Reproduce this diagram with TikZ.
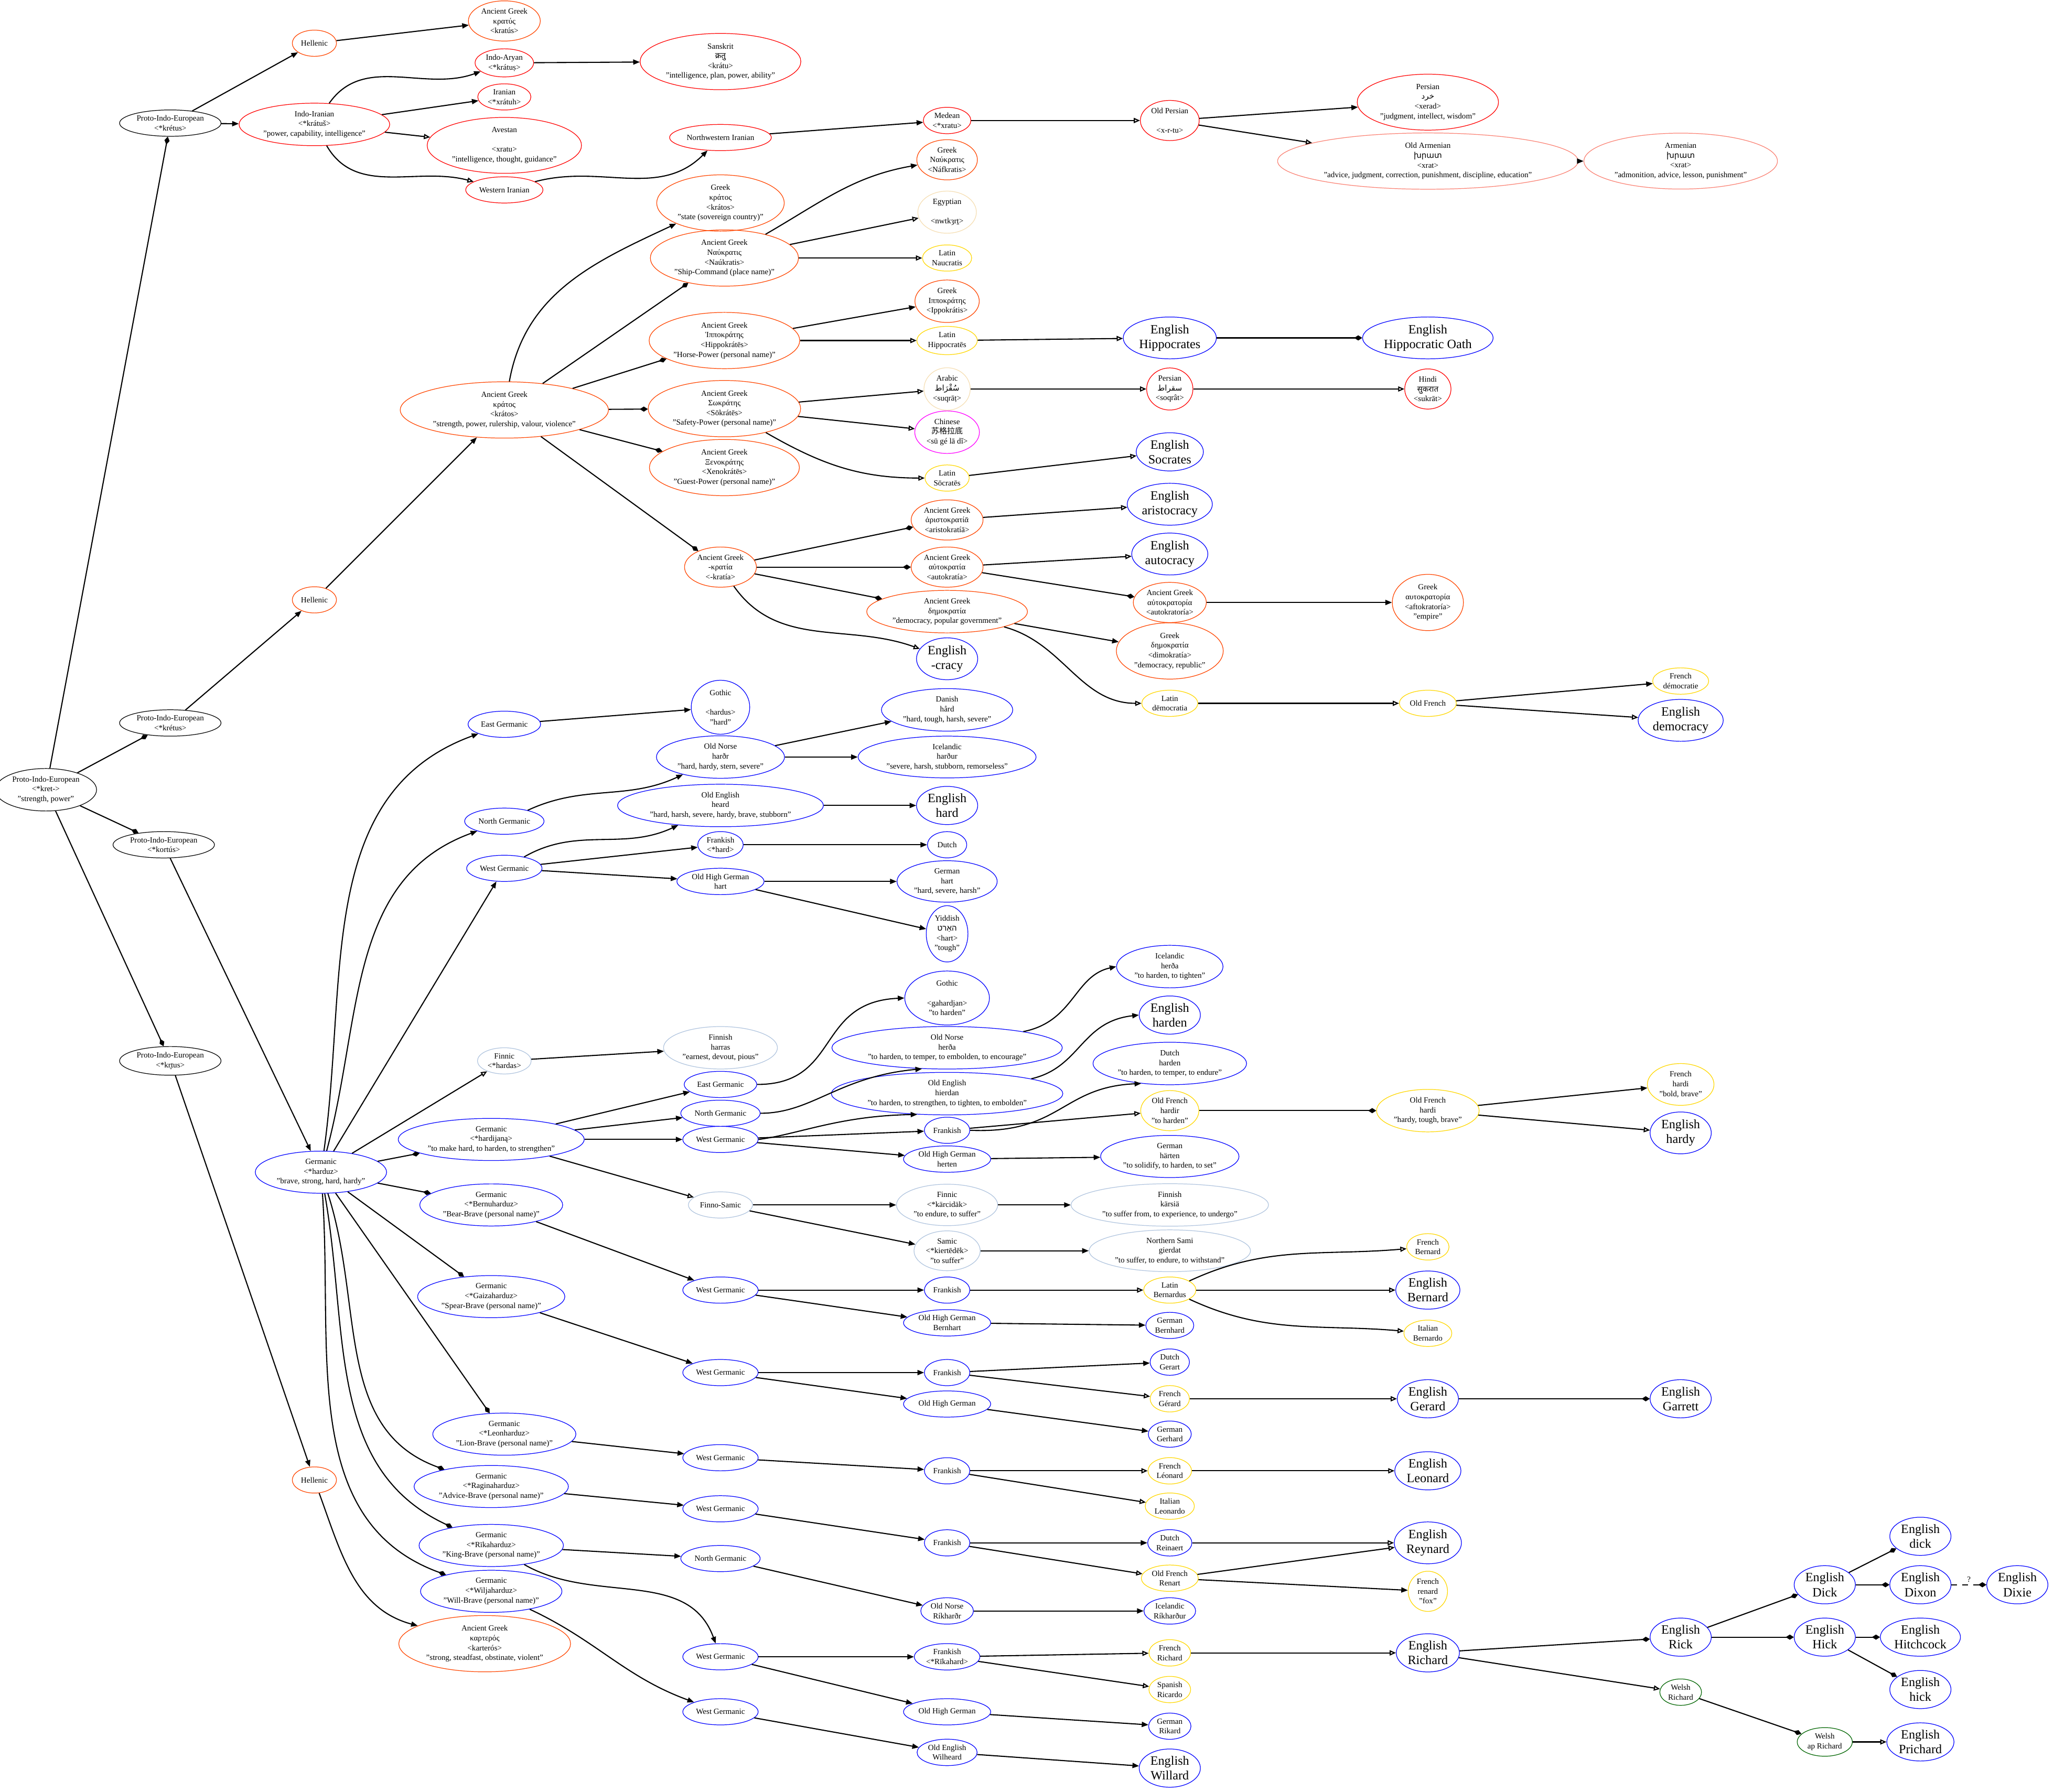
\documentclass[tikz,border=0pt]{standalone}
\usepackage{fontspec}
\usetikzlibrary{shapes.geometric,arrows.meta}
\setmainfont{Liberation Serif}
\newfontfamily\deva[Script=Devanagari]{Noto Sans}
\newfontfamily\arab[Script=Arabic]{DejaVu Sans}
\newfontfamily\armn{DejaVu Sans}
\newfontfamily\hebr[Script=Hebrew]{Liberation Sans}
\newfontfamily\cjk{Noto Sans CJK SC}
\newfontfamily\grk[Scale=0.88]{DejaVu Serif}
\TeXXeTstate=1
\newcommand\fsm{\fontsize{4.3}{5.3}\selectfont}
\newcommand\fbg{\fontsize{6.9}{8}\selectfont}
\definecolor{cgk}{HTML}{FF4500}
\definecolor{cir}{HTML}{FF0000}
\definecolor{carm}{HTML}{FA8072}
\definecolor{cegy}{HTML}{F5DEB3}
\definecolor{clat}{HTML}{FFD700}
\definecolor{cchi}{HTML}{FF00FF}
\definecolor{cger}{HTML}{0000FF}
\definecolor{cfin}{HTML}{B0C4DE}
\definecolor{cwel}{HTML}{006400}
\tikzset{
  nd/.style={ellipse, draw, line width=0.35pt, inner xsep=1.2pt, inner ysep=0.9pt,
    align=center, font=\fsm, minimum width=0.75cm, minimum height=0.5cm},
  en/.style={nd, draw=cger, font=\fbg},
  gk/.style={nd, draw=cgk}, ir/.style={nd, draw=cir}, arm/.style={nd, draw=carm},
  egy/.style={nd, draw=cegy}, lat/.style={nd, draw=clat}, chi/.style={nd, draw=cchi},
  ger/.style={nd, draw=cger}, fin/.style={nd, draw=cfin}, wel/.style={nd, draw=cwel},
  inh/.style={-{Triangle[length=3.6pt,width=2.8pt]}, line width=0.6pt},
  bor/.style={-{Triangle[open,length=3.4pt,width=2.8pt]}, line width=0.6pt},
  der/.style={-{Diamond[length=4.4pt,width=2.8pt]}, line width=0.6pt},
}
\begin{document}
\begin{tikzpicture}[x=0.025cm, y=-0.025cm]
\useasboundingbox (0,0) rectangle (1568,1368);
% ---------- PIE ----------
\node[nd] (pie) at (35,603) {Proto-Indo-European\\<*kret->\\"strength, power"};
\node[nd] (pieA) at (130,94) {Proto-Indo-European\\<*krétus>};
\node[nd] (pieB) at (130,552) {Proto-Indo-European\\<*krétus>};
\node[nd] (pieC) at (125,645) {Proto-Indo-European\\<*kortús>};
\node[nd] (pieD) at (130,810) {Proto-Indo-European\\<*kr̥tus>};
% ---------- Indo-Iranian ----------
\node[gk] (hel1) at (240,33) {Hellenic};
\node[gk] (AGkratus) at (385,16) {Ancient Greek\\κρατύς\\<kratús>};
\node[ir] (IIr) at (240,95) {Indo-Iranian\\<*krátuš>\\"power, capability, intelligence"};
\node[ir] (IAr) at (385,48) {Indo-Aryan\\<*krátuṣ>};
\node[ir] (San) at (550,47) {Sanskrit\\{\deva क्रतु}\\<krátu>\\"intelligence, plan, power, ability"};
\node[ir] (Ira) at (385,74) {Iranian\\<*xrátuh>};
\node[ir] (Ave) at (385,111) {Avestan\\𐬑𐬭𐬀𐬙𐬎\\<xratu>\\"intelligence, thought, guidance"};
\node[ir] (WIr) at (385,145) {Western Iranian};
\node[ir] (NWIr) at (550,105) {Northwestern Iranian};
\node[ir] (Med) at (723,92) {Medean\\<*xratu>};
\node[ir] (OPer) at (893,92) {Old Persian\\𐎧𐎼𐎫𐎢\\<x-r-tu>};
\node[ir] (Per) at (1090,78) {Persian\\{\arab\beginR خرد\endR}\\<xerad>\\"judgment, intellect, wisdom"};
\node[arm] (OArm) at (1090,123) {Old Armenian\\{\armn խրատ}\\<xrat>\\"advice, judgment, correction, punishment, discipline, education"};
\node[arm] (Arm) at (1283,123) {Armenian\\{\armn խրատ}\\<xrat>\\"admonition, advice, lesson, punishment"};
% ---------- Greek ----------
\node[gk] (hel2) at (240,458) {Hellenic};
\node[gk] (AGkratos) at (385,313) {Ancient Greek\\κράτος\\<krátos>\\"strength, power, rulership, valour, violence"};
\node[gk] (Gkratos) at (550,155) {Greek\\κράτος\\<krátos>\\"state (sovereign country)"};
\node[gk] (AGnauk) at (553,197) {Ancient Greek\\Ναύκρατις\\<Naúkratis>\\"Ship-Command (place name)"};
\node[gk] (Gnauk) at (723,122) {Greek\\Ναύκρατις\\<Náfkratis>};
\node[egy] (Egy) at (723,162) {Egyptian\\𓈖𓅱𓎡𓂋𓍿𓊖\\<nwtkȝrṯ>};
\node[lat] (LNauk) at (723,197) {Latin\\Naucratis};
\node[gk] (AGhip) at (553,260) {Ancient Greek\\Ἱπποκράτης\\<Hippokrátēs>\\"Horse-Power (personal name)"};
\node[gk] (Ghip) at (723,230) {Greek\\Ιπποκράτης\\<Ippokrátis>};
\node[lat] (LHip) at (723,260) {Latin\\Hippocratēs};
\node[en] (EHip) at (893,258) {English\\Hippocrates};
\node[en] (EOath) at (1090,258) {English\\Hippocratic Oath};
\node[gk] (AGsok) at (553,312) {Ancient Greek\\Σωκράτης\\<Sōkrátēs>\\"Safety-Power (personal name)"};
\node[egy] (Arab) at (723,297) {Arabic\\{\arab\beginR سُقْرَاط\endR}\\<suqrāṭ>};
\node[ir] (PerS) at (893,297) {Persian\\{\arab\beginR سقراط\endR}\\<soqrât>};
\node[ir] (Hin) at (1090,297) {Hindi\\{\deva सुकरात}\\<sukrāt>};
\node[chi] (Chi) at (723,330) {Chinese\\{\cjk 苏格拉底}\\<sū gé lā dǐ>};
\node[lat] (LSok) at (723,365) {Latin\\Sōcratēs};
\node[en] (ESoc) at (893,345) {English\\Socrates};
\node[gk] (AGxen) at (553,357) {Ancient Greek\\Ξενοκράτης\\<Xenokrátēs>\\"Guest-Power (personal name)"};
\node[gk] (AGkratia) at (550,433) {Ancient Greek\\-κρατία\\<-kratía>};
\node[gk] (AGarist) at (723,397) {Ancient Greek\\ἀριστοκρατίᾱ\\<aristokratíā>};
\node[en] (EArist) at (893,385) {English\\aristocracy};
\node[gk] (AGauto) at (723,433) {Ancient Greek\\αὐτοκρατία\\<autokratía>};
\node[en] (EAuto) at (893,423) {English\\autocracy};
\node[gk] (AGautor) at (893,460) {Ancient Greek\\αὐτοκρατορία\\<autokratoría>};
\node[gk] (Gautor) at (1090,460) {Greek\\αυτοκρατορία\\<aftokratoría>\\"empire"};
\node[gk] (AGdemo) at (723,467) {Ancient Greek\\δημοκρατία\\"democracy, popular government"};
\node[gk] (Gdemo) at (893,497) {Greek\\δημοκρατία\\<dimokratía>\\"democracy, republic"};
\node[en] (ECracy) at (723,503) {English\\-cracy};
\node[lat] (LDemo) at (893,537) {Latin\\dēmocratia};
\node[lat] (OFr) at (1090,537) {Old French};
\node[lat] (FrDemo) at (1283,520) {French\\démocratie};
\node[en] (EDemo) at (1283,550) {English\\democracy};
% ---------- Germanic ----------
\node[ger] (Gmc) at (245,895) {Germanic\\<*harduz>\\"brave, strong, hard, hardy"};
\node[ger] (EG1) at (385,553) {East Germanic};
\node[ger] (Goth1) at (550,540) {Gothic\\𐌷𐌰𐍂𐌳𐌿𐍃\\<hardus>\\"hard"};
\node[ger] (NG1) at (385,627) {North Germanic};
\node[ger] (ON1) at (550,578) {Old Norse\\harðr\\"hard, hardy, stern, severe"};
\node[ger] (Dan) at (723,542) {Danish\\hård\\"hard, tough, harsh, severe"};
\node[ger] (Ice1) at (723,578) {Icelandic\\harður\\"severe, harsh, stubborn, remorseless"};
\node[ger] (WG1) at (385,663) {West Germanic};
\node[ger] (OE1) at (550,615) {Old English\\heard\\"hard, harsh, severe, hardy, brave, stubborn"};
\node[en] (EHard) at (723,615) {English\\hard};
\node[ger] (Frk1) at (550,645) {Frankish\\<*hard>};
\node[ger] (Du1) at (723,645) {Dutch};
\node[ger] (OHG1) at (550,673) {Old High German\\hart};
\node[ger] (Ger1) at (723,673) {German\\hart\\"hard, severe, harsh"};
\node[ger] (Yid) at (723,713) {Yiddish\\{\hebr\beginR האַרט\endR}\\<hart>\\"tough"};
\node[fin] (Finnic1) at (385,810) {Finnic\\<*hardas>};
\node[fin] (FinHar) at (550,800) {Finnish\\harras\\"earnest, devout, pious"};
\node[ger] (GmcHard) at (375,870) {Germanic\\<*hardijaną>\\"to make hard, to harden, to strengthen"};
\node[ger] (EG2) at (550,828) {East Germanic};
\node[ger] (NG2) at (550,850) {North Germanic};
\node[ger] (WG2) at (550,870) {West Germanic};
\node[fin] (FinSam) at (550,920) {Finno-Samic};
\node[ger] (Goth2) at (723,762) {Gothic\\𐌲𐌰𐌷𐌰𐍂𐌳𐌾𐌰𐌽\\<gahardjan>\\"to harden"};
\node[ger] (ON2) at (723,800) {Old Norse\\herða\\"to harden, to temper, to embolden, to encourage"};
\node[ger] (OE2) at (723,835) {Old English\\hierdan\\"to harden, to strengthen, to tighten, to embolden"};
\node[ger] (Frk2) at (723,863) {Frankish};
\node[ger] (OHG2) at (723,885) {Old High German\\herten};
\node[ger] (Ice2) at (893,738) {Icelandic\\herða\\"to harden, to tighten"};
\node[en] (EHarden) at (893,775) {English\\harden};
\node[ger] (Du2) at (893,812) {Dutch\\harden\\"to harden, to temper, to endure"};
\node[lat] (OFhardir) at (893,848) {Old French\\hardir\\"to harden"};
\node[lat] (OFhardi) at (1090,848) {Old French\\hardi\\"hardy, tough, brave"};
\node[lat] (FrHardi) at (1283,828) {French\\hardi\\"bold, brave"};
\node[en] (EHardy) at (1283,865) {English\\hardy};
\node[ger] (Ger2) at (893,883) {German\\härten\\"to solidify, to harden, to set"};
\node[fin] (Finnic2) at (723,920) {Finnic\\<*kärcidäk>\\"to endure, to suffer"};
\node[fin] (FinKar) at (893,920) {Finnish\\kärsiä\\"to suffer from, to experience, to undergo"};
\node[fin] (Samic) at (723,955) {Samic\\<*kiertēdēk>\\"to suffer"};
\node[fin] (NSami) at (893,955) {Northern Sami\\gierdat\\"to suffer, to endure, to withstand"};
% names
\node[ger] (GmcBern) at (375,920) {Germanic\\<*Bernuharduz>\\"Bear-Brave (personal name)"};
\node[ger] (WG3) at (550,985) {West Germanic};
\node[ger] (Frk3) at (723,985) {Frankish};
\node[ger] (OHG3) at (723,1010) {Old High German\\Bernhart};
\node[lat] (LBern) at (893,985) {Latin\\Bernardus};
\node[ger] (GerBern) at (893,1012) {German\\Bernhard};
\node[lat] (FrBern) at (1090,952) {French\\Bernard};
\node[en] (EBern) at (1090,985) {English\\Bernard};
\node[lat] (ItBern) at (1090,1018) {Italian\\Bernardo};
\node[ger] (GmcGaiz) at (375,990) {Germanic\\<*Gaizaharduz>\\"Spear-Brave (personal name)"};
\node[ger] (WG4) at (550,1048) {West Germanic};
\node[ger] (Frk4) at (723,1048) {Frankish};
\node[ger] (OHG4) at (723,1072) {Old High German};
\node[ger] (DuGer) at (893,1040) {Dutch\\Gerart};
\node[lat] (FrGer) at (893,1068) {French\\Gérard};
\node[ger] (GerGer) at (893,1095) {German\\Gerhard};
\node[en] (EGer) at (1090,1068) {English\\Gerard};
\node[en] (EGar) at (1283,1068) {English\\Garrett};
\node[ger] (GmcLeon) at (385,1095) {Germanic\\<*Leonharduz>\\"Lion-Brave (personal name)"};
\node[ger] (WG5) at (550,1113) {West Germanic};
\node[ger] (Frk5) at (723,1123) {Frankish};
\node[lat] (FrLeon) at (893,1123) {French\\Léonard};
\node[lat] (ItLeon) at (893,1150) {Italian\\Leonardo};
\node[en] (ELeon) at (1090,1123) {English\\Leonard};
\node[ger] (GmcRag) at (375,1135) {Germanic\\<*Raginaharduz>\\"Advice-Brave (personal name)"};
\node[ger] (WG6) at (550,1152) {West Germanic};
\node[ger] (Frk6) at (723,1178) {Frankish};
\node[ger] (DuRein) at (893,1178) {Dutch\\Reinaert};
\node[lat] (OFRen) at (893,1205) {Old French\\Renart};
\node[en] (EReyn) at (1090,1178) {English\\Reynard};
\node[lat] (FrRen) at (1090,1215) {French\\renard\\"fox"};
\node[ger] (GmcRik) at (375,1180) {Germanic\\<*Rīkaharduz>\\"King-Brave (personal name)"};
\node[ger] (NG7) at (550,1190) {North Germanic};
\node[ger] (ONRik) at (723,1230) {Old Norse\\Ríkharðr};
\node[ger] (IceRik) at (893,1230) {Icelandic\\Ríkharður};
\node[ger] (WG7) at (550,1265) {West Germanic};
\node[ger] (Frk7) at (723,1265) {Frankish\\<*Rīkahard>};
\node[lat] (FrRich) at (893,1262) {French\\Richard};
\node[lat] (SpRic) at (893,1290) {Spanish\\Ricardo};
\node[ger] (OHG7) at (723,1307) {Old High German};
\node[ger] (GerRik) at (893,1318) {German\\Rikard};
\node[en] (ERich) at (1090,1262) {English\\Richard};
\node[en] (ERick) at (1283,1250) {English\\Rick};
\node[wel] (WRich) at (1283,1292) {Welsh\\Richard};
\node[en] (EDick) at (1393,1210) {English\\Dick};
\node[en] (EHick) at (1393,1250) {English\\Hick};
\node[wel] (WAp) at (1393,1330) {Welsh\\ap Richard};
\node[en] (Edick) at (1466,1173) {English\\dick};
\node[en] (EDixon) at (1466,1210) {English\\Dixon};
\node[en] (EDixie) at (1540,1210) {English\\Dixie};
\node[en] (EHitch) at (1466,1250) {English\\Hitchcock};
\node[en] (Ehick) at (1466,1290) {English\\hick};
\node[en] (EPrich) at (1466,1330) {English\\Prichard};
\node[ger] (GmcWil) at (375,1215) {Germanic\\<*Wiljaharduz>\\"Will-Brave (personal name)"};
\node[ger] (WG8) at (550,1307) {West Germanic};
\node[ger] (OEWil) at (723,1338) {Old English\\Wilheard};
\node[en] (EWil) at (893,1350) {English\\Willard};
\node[gk] (hel3) at (240,1130) {Hellenic};
\node[gk] (AGkart) at (370,1255) {Ancient Greek\\καρτερός\\<karterós>\\"strong, steadfast, obstinate, violent"};
% ---------- edges ----------
\draw[der] (pie) -- (pieA);
\draw[der] (pie) -- (pieB);
\draw[der] (pie) -- (pieC);
\draw[der] (pie) -- (pieD);
\draw[inh] (pieA) -- (hel1);
\draw[inh] (hel1) -- (AGkratus);
\draw[inh] (pieA) -- (IIr);
\draw[inh] (IIr) to[out=55,in=200] (IAr);
\draw[inh] (IIr) -- (Ira);
\draw[bor] (IIr) -- (Ave);
\draw[bor] (IIr) to[out=-60,in=165] (WIr);
\draw[inh] (IAr) -- (San);
\draw[inh] (WIr) to[out=15,in=225] (NWIr);
\draw[inh] (NWIr) -- (Med);
\draw[bor] (Med) -- (OPer);
\draw[inh] (OPer) -- (Per);
\draw[bor] (OPer) -- (OArm);
\draw[inh] (OArm) -- (Arm);
\draw[inh] (pieB) -- (hel2);
\draw[inh] (hel2) -- (AGkratos);
\draw[inh] (AGkratos) to[out=80,in=205] (Gkratos);
\draw[der] (AGkratos) -- (AGnauk);
\draw[der] (AGkratos) -- (AGhip);
\draw[der] (AGkratos) -- (AGsok);
\draw[der] (AGkratos) -- (AGxen);
\draw[der] (AGkratos) -- (AGkratia);
\draw[inh] (AGnauk) to[out=30,in=190] (Gnauk);
\draw[bor] (AGnauk) -- (Egy);
\draw[bor] (AGnauk) -- (LNauk);
\draw[inh] (AGhip) -- (Ghip);
\draw[bor] (AGhip) -- (LHip);
\draw[bor] (LHip) -- (EHip);
\draw[der] (EHip) -- (EOath);
\draw[bor] (AGsok) -- (Arab);
\draw[bor] (AGsok) -- (Chi);
\draw[bor] (AGsok) to[out=-30,in=180] (LSok);
\draw[bor] (Arab) -- (PerS);
\draw[bor] (PerS) -- (Hin);
\draw[bor] (LSok) -- (ESoc);
\draw[der] (AGkratia) -- (AGarist);
\draw[der] (AGkratia) -- (AGauto);
\draw[der] (AGkratia) -- (AGdemo);
\draw[bor] (AGkratia) to[out=-55,in=160] (ECracy);
\draw[bor] (AGarist) -- (EArist);
\draw[bor] (AGauto) -- (EAuto);
\draw[der] (AGauto) -- (AGautor);
\draw[inh] (AGautor) -- (Gautor);
\draw[inh] (AGdemo) -- (Gdemo);
\draw[bor] (AGdemo) to[out=-15,in=180] (LDemo);
\draw[bor] (LDemo) -- (OFr);
\draw[inh] (OFr) -- (FrDemo);
\draw[bor] (OFr) -- (EDemo);
\draw[inh] (pieC) -- (Gmc);
\draw[inh] (Gmc) to[out=82,in=200] (EG1);
\draw[inh] (Gmc) to[out=75,in=200] (NG1);
\draw[inh] (Gmc) -- (WG1);
\draw[bor] (Gmc) -- (Finnic1);
\draw[der] (Gmc) -- (GmcHard);
\draw[der] (Gmc) -- (GmcBern);
\draw[der] (Gmc) -- (GmcGaiz);
\draw[der] (Gmc) -- (GmcLeon);
\draw[der] (Gmc) to[out=-72,in=160] (GmcRag);
\draw[der] (Gmc) to[out=-80,in=155] (GmcRik);
\draw[der] (Gmc) to[out=-86,in=160] (GmcWil);
\draw[inh] (EG1) -- (Goth1);
\draw[inh] (NG1) to[out=25,in=205] (ON1);
\draw[inh] (ON1) -- (Dan);
\draw[inh] (ON1) -- (Ice1);
\draw[inh] (WG1) to[out=30,in=205] (OE1);
\draw[inh] (WG1) -- (Frk1);
\draw[inh] (WG1) -- (OHG1);
\draw[inh] (OE1) -- (EHard);
\draw[inh] (Frk1) -- (Du1);
\draw[inh] (OHG1) -- (Ger1);
\draw[inh] (OHG1) -- (Yid);
\draw[inh] (Finnic1) -- (FinHar);
\draw[inh] (GmcHard) -- (EG2);
\draw[inh] (GmcHard) -- (NG2);
\draw[inh] (GmcHard) -- (WG2);
\draw[bor] (GmcHard) -- (FinSam);
\draw[inh] (EG2.east) .. controls (642,828) and (622,765) .. (Goth2.west);
\draw[inh] (NG2.east) .. controls (620,850) and (640,822) .. (ON2.220);
\draw[inh] (WG2.east) .. controls (610,866) and (640,852) .. (OE2.215);
\draw[inh] (WG2) -- (Frk2);
\draw[inh] (WG2) -- (OHG2);
\draw[inh] (ON2.12) .. controls (820,780) and (820,745) .. (Ice2.west);
\draw[inh] (OE2.10) .. controls (825,815) and (825,780) .. (EHarden.west);
\draw[inh] (Frk2.east) .. controls (810,866) and (810,830) .. (Du2.215);
\draw[bor] (Frk2) -- (OFhardir);
\draw[der] (OFhardir) -- (OFhardi);
\draw[inh] (OFhardi) -- (FrHardi);
\draw[bor] (OFhardi) -- (EHardy);
\draw[inh] (OHG2) -- (Ger2);
\draw[inh] (FinSam) -- (Finnic2);
\draw[inh] (FinSam) -- (Samic);
\draw[inh] (Finnic2) -- (FinKar);
\draw[inh] (Samic) -- (NSami);
\draw[inh] (GmcBern) -- (WG3);
\draw[inh] (WG3) -- (Frk3);
\draw[inh] (WG3) -- (OHG3);
\draw[bor] (Frk3) -- (LBern);
\draw[inh] (OHG3) -- (GerBern);
\draw[bor] (LBern) to[out=25,in=185] (FrBern);
\draw[bor] (LBern) -- (EBern);
\draw[bor] (LBern) to[out=-25,in=175] (ItBern);
\draw[inh] (GmcGaiz) -- (WG4);
\draw[inh] (WG4) -- (Frk4);
\draw[inh] (WG4) -- (OHG4);
\draw[inh] (Frk4) -- (DuGer);
\draw[bor] (Frk4) -- (FrGer);
\draw[inh] (OHG4) -- (GerGer);
\draw[bor] (FrGer) -- (EGer);
\draw[der] (EGer) -- (EGar);
\draw[inh] (GmcLeon) -- (WG5);
\draw[inh] (WG5) -- (Frk5);
\draw[bor] (Frk5) -- (FrLeon);
\draw[bor] (Frk5) -- (ItLeon);
\draw[bor] (FrLeon) -- (ELeon);
\draw[inh] (GmcRag) -- (WG6);
\draw[inh] (WG6) -- (Frk6);
\draw[inh] (Frk6) -- (DuRein);
\draw[bor] (Frk6) -- (OFRen);
\draw[bor] (DuRein) -- (EReyn);
\draw[bor] (OFRen) -- (EReyn);
\draw[inh] (OFRen) -- (FrRen);
\draw[inh] (GmcRik) -- (NG7);
\draw[inh] (GmcRik) to[out=-30,in=110] (WG7);
\draw[inh] (NG7) -- (ONRik);
\draw[inh] (ONRik) -- (IceRik);
\draw[inh] (WG7) -- (Frk7);
\draw[inh] (WG7) -- (OHG7);
\draw[bor] (Frk7) -- (FrRich);
\draw[bor] (Frk7) -- (SpRic);
\draw[inh] (OHG7) -- (GerRik);
\draw[bor] (FrRich) -- (ERich);
\draw[der] (ERich) -- (ERick);
\draw[bor] (ERich) -- (WRich);
\draw[der] (ERick) -- (EDick);
\draw[der] (ERick) -- (EHick);
\draw[der] (EDick) -- (Edick);
\draw[der] (EDick) -- (EDixon);
\draw[der, dashed] (EDixon) -- node[above, font=\fsm, inner sep=1pt] {?} (EDixie);
\draw[der] (EHick) -- (EHitch);
\draw[der] (EHick) -- (Ehick);
\draw[der] (WRich) -- (WAp);
\draw[bor] (WAp) -- (EPrich);
\draw[inh] (GmcWil) to[out=-25,in=160] (WG8);
\draw[inh] (WG8) -- (OEWil);
\draw[inh] (OEWil) -- (EWil);
\draw[inh] (pieD) -- (hel3);
\draw[inh] (hel3) to[out=-70,in=165] (AGkart);
\end{tikzpicture}
\end{document}
